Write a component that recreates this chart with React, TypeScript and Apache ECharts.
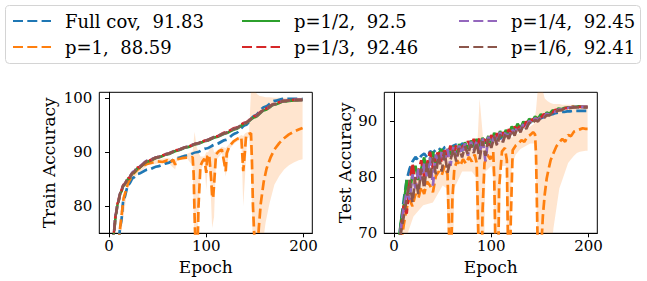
import React, { useEffect, useRef } from 'react';
import * as echarts from 'echarts';

// ---------- Train accuracy ----------
const trainEpochs = [1, 3, 5, 7, 9, 12, 15, 20, 25, 30, 40, 50, 60, 70, 80, 90, 100, 110, 120, 130, 140, 150, 160, 170, 180, 190, 199];
const trainFullCov = [50, 58, 65, 70, 72.5, 76.5, 81.3, 84.0, 85.3, 86.0, 86.8, 87.4, 88.0, 88.9, 89.4, 90.0, 90.7, 91.5, 92.3, 93.5, 95.0, 96.8, 98.4, 99.5, 99.9, 99.9, 99.9];
const trainP2 = [64, 69.5, 75.0, 78.3, 80.5, 82.5, 83.8, 85.1, 86.2, 87.1, 88.3, 89.0, 89.6, 90.3, 90.9, 91.5, 92.1, 92.8, 93.5, 94.3, 95.3, 96.5, 97.8, 98.8, 99.4, 99.6, 99.7];
const trainP3 = [64.5, 70, 75.2, 78.6, 80.7, 82.7, 84.0, 85.2, 86.3, 87.2, 88.4, 89.1, 89.7, 90.4, 91.0, 91.6, 92.2, 92.9, 93.7, 94.5, 95.5, 96.7, 98.0, 99.0, 99.5, 99.7, 99.7];
const trainP4 = [65, 70.2, 75.4, 78.6, 80.6, 82.6, 83.9, 85.2, 86.4, 87.3, 88.5, 89.1, 89.7, 90.4, 91.0, 91.6, 92.2, 92.9, 93.6, 94.4, 95.4, 96.6, 97.9, 98.9, 99.5, 99.7, 99.7];
const trainP6 = [65, 70, 75.3, 78.5, 80.6, 82.6, 83.9, 85.2, 86.3, 87.2, 88.4, 89.1, 89.7, 90.4, 91.0, 91.6, 92.2, 92.9, 93.6, 94.4, 95.4, 96.6, 97.9, 98.9, 99.5, 99.7, 99.7];

const trainP1Epochs = [1, 5, 9, 12, 15, 20, 25, 30, 35, 40, 45, 50, 55, 60, 63, 66, 68, 70, 75, 80, 84, 86, 87, 88, 89, 90, 91, 92, 94, 96, 98, 100, 101, 103, 105, 106, 107, 108, 110, 113, 116, 118, 120, 121, 124, 128, 132, 136, 138, 139, 141, 144, 146, 147, 148, 149, 150, 152, 154, 156, 159, 162, 166, 170, 175, 180, 185, 190, 195, 199];
const trainP1 = [52, 64, 72, 77, 81.5, 84.5, 86.0, 86.9, 87.5, 87.9, 88.1, 88.3, 88.2, 88.5, 88.1, 88.6, 87.7, 88.7, 88.9, 89.0, 89.0, 89.1, 86, 78, 72, 70, 72, 80, 87.5, 88.3, 88.8, 86.2, 89.2, 89.6, 85, 82, 81.5, 84, 89.6, 90.2, 90.5, 88.5, 86.5, 89.8, 91.2, 92.0, 92.5, 92.8, 86.5, 88.5, 93.2, 93.4, 93.5, 88, 80, 76, 72, 70, 76, 80.5, 84.5, 87.0, 89.0, 90.5, 91.7, 92.6, 93.3, 93.8, 94.2, 94.5];

const trainBandEpochs = [1, 10, 20, 40, 60, 68, 70, 80, 86, 88, 90, 92, 94, 98, 100, 102, 104, 106, 108, 110, 116, 120, 124, 130, 136, 138, 140, 142, 144, 146, 148, 150, 152, 155, 158, 161, 165, 170, 175, 180, 185, 190, 195, 199];
const trainBandUpper = [57, 75, 85.2, 88.4, 89.0, 88.5, 89.2, 89.7, 90.2, 93.8, 91, 90, 89.2, 89.2, 90, 90, 91, 91.5, 90, 90.2, 91, 90.8, 91.6, 92.4, 93.2, 93, 93.5, 93.7, 93.8, 101.5, 102, 101.5, 100.8, 100.4, 100.3, 100.2, 100.2, 100.1, 100.1, 100.1, 100.1, 100.1, 100.1, 100.1];
const trainBandLower = [53, 72, 84.4, 87.6, 88.2, 86.8, 88.4, 88.9, 87.5, 70, 70, 78, 86.5, 88.2, 83, 88.8, 85, 76, 78, 88.5, 89.8, 85.5, 90.7, 91.8, 92.4, 80, 86, 92.6, 92.8, 88, 70, 70, 70, 70, 73, 77, 80.5, 84, 85.6, 86.8, 87.6, 88.1, 88.5, 88.7];

// ---------- Test accuracy ----------
const testEpochs = [1, 4, 7, 10, 13, 16, 19, 22, 25, 28, 31, 34, 37, 40, 43, 46, 49, 52, 55, 58, 61, 64, 67, 70, 73, 76, 79, 82, 85, 88, 91, 94, 97, 100, 103, 106, 109, 112, 115, 118, 121, 124, 127, 130, 133, 136, 139, 142, 145, 148, 151, 154, 157, 160, 163, 166, 169, 172, 175, 178, 181, 184, 187, 190, 193, 196, 199];
const testFullCov = [60, 66, 72, 76, 79.5, 81.5, 82.8, 83.6, 83.0, 83.8, 84.2, 83.5, 84.6, 84.3, 84.9, 85.2, 84.6, 85.3, 85.5, 85.0, 85.6, 85.8, 85.2, 86.0, 85.7, 86.1, 85.5, 86.3, 86.0, 86.4, 85.8, 86.6, 86.9, 86.5, 87.0, 87.3, 86.8, 87.5, 87.8, 87.4, 88.0, 88.4, 88.7, 88.9, 89.2, 89.5, 89.6, 89.9, 90.1, 90.3, 90.5, 90.7, 90.9, 91.1, 91.2, 91.4, 91.5, 91.6, 91.6, 91.7, 91.7, 91.8, 91.8, 91.8, 91.8, 91.8, 91.8];
const testP2 = [61, 67, 72, 75, 79.5, 77, 80.5, 82, 79.5, 81.5, 83.5, 80.5, 83.2, 84.5, 82.0, 84.3, 85.0, 83.2, 85.0, 84.0, 85.5, 83.8, 85.9, 84.6, 86.2, 85.0, 86.5, 85.3, 86.8, 85.2, 87.0, 86.0, 87.3, 85.8, 87.9, 86.6, 88.2, 87.0, 88.4, 87.6, 89.0, 88.2, 89.5, 88.7, 89.9, 89.3, 90.4, 89.9, 90.8, 90.4, 91.2, 90.8, 91.5, 91.3, 91.9, 91.7, 92.2, 92.1, 92.3, 92.4, 92.4, 92.5, 92.5, 92.6, 92.5, 92.5, 92.5];
const testP3 = [58, 64, 70.5, 75, 73.5, 79, 82.5, 78.5, 81, 83, 80, 82.5, 84.5, 81.5, 83.5, 84.8, 82.5, 85.2, 83.6, 85.6, 84.0, 85.8, 84.5, 86.0, 84.8, 86.4, 85.3, 86.8, 85.0, 87.0, 85.8, 87.2, 85.6, 87.5, 86.4, 87.8, 86.8, 88.0, 87.2, 88.5, 87.8, 89.0, 88.4, 89.4, 88.9, 89.9, 89.5, 90.3, 90.0, 90.8, 90.6, 91.2, 91.0, 91.6, 91.5, 92.0, 91.9, 92.2, 92.3, 92.3, 92.4, 92.5, 92.4, 92.5, 92.5, 92.5, 92.5];
const testP4 = [60, 66, 71, 74.5, 77.5, 76, 80.5, 78, 81.5, 79.5, 82.5, 80.0, 83.5, 78.5, 84.0, 82.5, 84.5, 83.0, 85.0, 82.0, 85.4, 83.6, 85.6, 84.2, 86.0, 83.8, 86.3, 84.8, 86.5, 84.0, 87.0, 82.8, 87.2, 85.5, 87.6, 85.9, 88.0, 86.5, 88.2, 87.0, 88.6, 87.8, 89.0, 88.3, 89.5, 88.9, 90.0, 89.6, 90.5, 90.1, 90.9, 90.6, 91.3, 91.1, 91.7, 91.6, 92.0, 92.0, 92.3, 92.3, 92.4, 92.4, 92.5, 92.5, 92.5, 92.5, 92.45];
const testP6 = [59, 65, 70, 73, 76, 79.5, 75.5, 80, 77, 81.5, 78, 82.5, 79.5, 83.5, 80.5, 84, 81, 84.5, 80.8, 83, 85, 82.8, 85.2, 83.5, 85.5, 84.0, 85.8, 84.3, 86.2, 83.2, 86.4, 83.8, 86.8, 85.2, 87.2, 85.6, 87.6, 86.2, 87.9, 86.8, 88.3, 87.4, 88.8, 88.0, 89.2, 88.6, 89.7, 89.4, 90.2, 89.9, 90.6, 90.5, 91.0, 91.0, 91.5, 91.5, 91.9, 91.9, 92.2, 92.3, 92.3, 92.4, 92.4, 92.4, 92.4, 92.4, 92.4];

const testP1Epochs = [1, 4, 7, 10, 13, 16, 19, 22, 25, 28, 31, 34, 37, 40, 43, 46, 49, 52, 55, 56, 58, 60, 62, 65, 68, 71, 74, 77, 80, 83, 85, 86, 88, 90, 91, 93, 96, 99, 102, 103, 105, 107, 108, 111, 114, 116, 117, 119, 120, 122, 125, 128, 131, 134, 137, 140, 143, 145, 146, 148, 150, 151, 153, 155, 157, 159, 161, 164, 167, 170, 173, 176, 179, 182, 185, 188, 191, 194, 197, 199];
const testP1 = [58, 63, 68, 71.5, 74.5, 76, 74.8, 77, 76.2, 78.3, 77, 79.2, 78.5, 77.3, 80.2, 81, 80.3, 82, 80.5, 74, 60, 76, 81.5, 83, 82, 83.2, 82.4, 83.6, 82.8, 84, 82.5, 75, 60, 62, 74, 82.5, 84, 83.2, 84.5, 80, 60, 62, 78, 84.6, 85.2, 83, 70, 60, 72, 84.8, 85.6, 86, 86.6, 86.3, 87.2, 87.5, 88, 87.6, 84, 65, 60, 66, 73, 77, 79.8, 81.5, 83, 84.3, 85.5, 86.2, 86.8, 86.3, 87.5, 87.3, 88.1, 88.3, 88.5, 88.7, 88.6, 88.6];

const testBandEpochs = [1, 10, 20, 30, 40, 50, 54, 56, 58, 60, 62, 70, 80, 84, 86, 88, 90, 92, 94, 100, 102, 104, 106, 108, 110, 115, 117, 119, 121, 125, 130, 135, 140, 144, 146, 148, 150, 152, 155, 158, 161, 164, 167, 170, 173, 176, 179, 182, 185, 188, 191, 194, 197, 199];
const testBandUpper = [62, 74, 79.5, 80.5, 81.5, 83, 84, 84.5, 84, 83.5, 84, 85, 85.5, 86, 87, 94, 90, 86, 86, 86, 87, 88, 87, 86.5, 87, 87, 87, 87.5, 87, 87.5, 88, 88.5, 89, 89.5, 92, 96, 97, 96, 94, 93.5, 93.2, 93, 93, 93, 92.9, 92.9, 92.9, 92.9, 92.9, 92.8, 92.8, 92.8, 92.8, 92.8];
const testBandLower = [55, 68, 73, 75, 75.5, 78.5, 78, 60, 60, 60, 78, 81, 81, 80, 60, 60, 60, 60, 81, 82, 80, 60, 60, 60, 82, 82, 60, 60, 82, 84, 85, 85.5, 86, 86, 80, 60, 60, 60, 60, 60, 66, 71, 74.5, 78, 79.5, 81, 82.5, 83.2, 83.8, 84.3, 84.5, 84.6, 84.7, 84.7];

// ---------- Labels ----------
const names = ['Full cov,  91.83', 'p=1,  88.59', 'p=1/2,  92.5', 'p=1/3,  92.46', 'p=1/4,  92.45', 'p=1/6,  92.41'];
const colors = ['#1f77b4', '#ff7f0e', '#2ca02c', '#d62728', '#9467bd', '#8c564b'];
const xTicks = [0, 100, 200];
const trainYTicks = [80, 90, 100];
const testYTicks = [70, 80, 90];

const FONT = 'DejaVu Serif';
const DASH = [10, 4.3];
const LW = 2.7;

const pairs = (xs: number[], ys: number[]) => xs.map((x, i) => [x, ys[i]]);

function lineSeries(idx: number, axis: number, xs: number[], ys: number[], smooth: boolean) {
  const dashed = idx !== 2;
  return {
    name: names[idx],
    type: 'line',
    xAxisIndex: axis,
    yAxisIndex: axis,
    data: pairs(xs, ys),
    symbol: 'none',
    showSymbol: false,
    smooth: smooth ? 0.3 : false,
    smoothMonotone: 'x',
    clip: true,
    lineStyle: { color: colors[idx], width: LW, type: dashed ? DASH : 'solid', cap: 'butt' },
    itemStyle: { color: colors[idx] },
    z: 3 + idx,
  };
}

function bandSeries(axis: number, xs: number[], lo: number[], hi: number[]) {
  return {
    type: 'custom',
    xAxisIndex: axis,
    yAxisIndex: axis,
    silent: true,
    clip: true,
    z: 2,
    data: [[100, 85]],
    renderItem: (params: any, api: any) => {
      const pts: number[][] = [];
      for (let i = 0; i < xs.length; i++) pts.push(api.coord([xs[i], hi[i]]));
      for (let i = xs.length - 1; i >= 0; i--) pts.push(api.coord([xs[i], lo[i]]));
      const cs = params.coordSys;
      return {
        type: 'polygon',
        shape: { points: pts },
        style: { fill: 'rgba(255,127,14,0.2)', stroke: null },
        clipPath: { type: 'rect', shape: { x: cs.x, y: cs.y, width: cs.width, height: cs.height } },
      };
    },
  };
}

const nameText = { color: '#000', fontFamily: FONT, fontSize: 17 };

function tickFormatter(ticks: number[]) {
  return (v: number) => (ticks.indexOf(Math.round(v)) >= 0 && Math.abs(v - Math.round(v)) < 1e-6 ? String(Math.round(v)) : '');
}

function xAxis(gridIndex: number) {
  return {
    type: 'value',
    gridIndex,
    min: -10,
    max: 209,
    interval: 10,
    name: 'Epoch',
    nameLocation: 'middle',
    nameGap: 25,
    nameTextStyle: nameText,
    axisLine: { show: true, lineStyle: { color: '#000', width: 1 } },
    axisTick: { show: true, length: 4, lineStyle: { color: '#000' }, customValues: xTicks },
    axisLabel: {
      show: true,
      color: '#000',
      fontFamily: FONT,
      fontSize: 15,
      margin: 5,
      hideOverlap: false,
      showMinLabel: false,
      showMaxLabel: false,
      formatter: tickFormatter(xTicks),
    },
    splitLine: { show: false },
  };
}

function yAxis(gridIndex: number, min: number, max: number, ticks: number[], name: string, gap: number) {
  return {
    type: 'value',
    gridIndex,
    min,
    max,
    interval: 5,
    name,
    nameLocation: 'middle',
    nameGap: gap,
    nameTextStyle: nameText,
    axisLine: { show: true, lineStyle: { color: '#000', width: 1 } },
    axisTick: { show: true, length: 4, lineStyle: { color: '#000' }, customValues: ticks },
    axisLabel: {
      show: true,
      color: '#000',
      fontFamily: FONT,
      fontSize: 15,
      margin: 7,
      hideOverlap: false,
      showMinLabel: true,
      showMaxLabel: false,
      formatter: tickFormatter(ticks),
    },
    splitLine: { show: false },
  };
}

function legendCol(left: number, items: string[]) {
  return {
    orient: 'vertical',
    left,
    top: 12,
    padding: 0,
    itemWidth: 38,
    itemHeight: 14,
    itemGap: 8,
    selectedMode: false,
    data: items,
    itemStyle: { opacity: 0 },
    textStyle: { color: '#000', fontFamily: FONT, fontSize: 18, padding: [0, 0, 0, 9] },
  };
}

export default function App() {
  const ref = useRef<HTMLDivElement>(null);
  useEffect(() => {
    document.body.style.margin = '0';
    const chart = echarts.init(ref.current!, null, { renderer: 'svg' });
    const option: any = {
      animation: false,
      backgroundColor: '#fff',
      textStyle: { fontFamily: FONT, color: '#000' },
      graphic: [
        {
          type: 'rect',
          z: 0,
          shape: { x: 5.5, y: 5.5, width: 635, height: 58, r: 4 },
          style: { fill: '#fff', stroke: '#d4d4d4', lineWidth: 1 },
        },
      ],
      legend: [
        legendCol(12, [names[0], names[1]]),
        legendCol(241, [names[2], names[3]]),
        legendCol(458, [names[4], names[5]]),
      ],
      grid: [
        { left: 99.3, top: 92.3, width: 213, height: 141, show: true, borderColor: '#000', borderWidth: 1, backgroundColor: 'transparent', containLabel: false },
        { left: 384.3, top: 92.3, width: 213, height: 141, show: true, borderColor: '#000', borderWidth: 1, backgroundColor: 'transparent', containLabel: false },
      ],
      xAxis: [xAxis(0), xAxis(1)],
      yAxis: [
        yAxis(0, 75, 101.1, trainYTicks, 'Train Accuracy', 42),
        yAxis(1, 70, 95.1, testYTicks, 'Test Accuracy', 31),
      ],
      series: [
        bandSeries(0, trainBandEpochs, trainBandLower, trainBandUpper),
        lineSeries(0, 0, trainEpochs, trainFullCov, true),
        lineSeries(1, 0, trainP1Epochs, trainP1, false),
        lineSeries(2, 0, trainEpochs, trainP2, true),
        lineSeries(3, 0, trainEpochs, trainP3, true),
        lineSeries(4, 0, trainEpochs, trainP4, true),
        lineSeries(5, 0, trainEpochs, trainP6, true),
        bandSeries(1, testBandEpochs, testBandLower, testBandUpper),
        lineSeries(0, 1, testEpochs, testFullCov, false),
        lineSeries(1, 1, testP1Epochs, testP1, false),
        lineSeries(2, 1, testEpochs, testP2, false),
        lineSeries(3, 1, testEpochs, testP3, false),
        lineSeries(4, 1, testEpochs, testP4, false),
        lineSeries(5, 1, testEpochs, testP6, false),
      ],
    };
    chart.setOption(option);
    return () => chart.dispose();
  }, []);
  return <div ref={ref} style={{ position: 'absolute', left: 0, top: 0, width: 647, height: 281 }} />;
}
